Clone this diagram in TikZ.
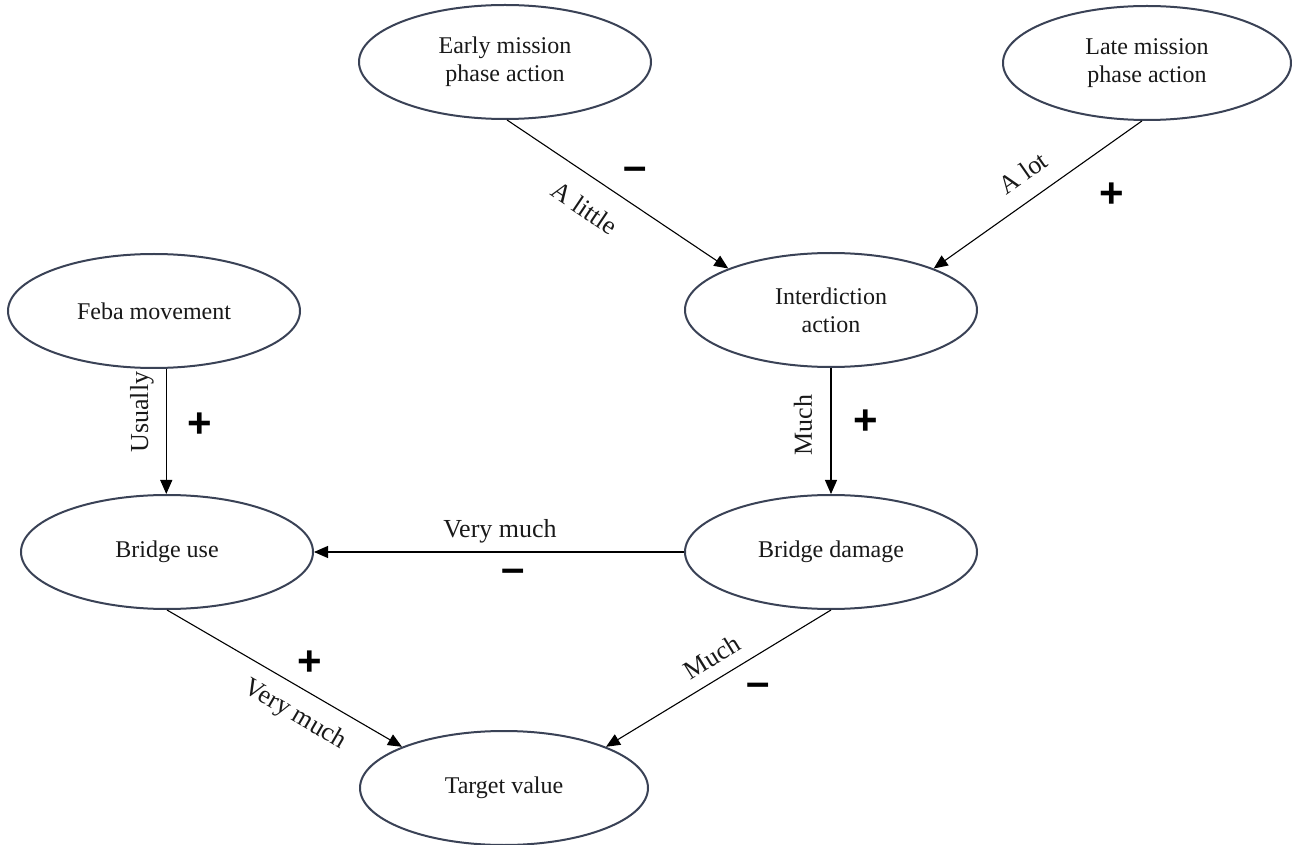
\documentclass[tikz,border=0pt]{standalone}
\usepackage{fontspec}
\setmainfont{Liberation Serif}
\newfontfamily\signfont{Liberation Sans}
\usetikzlibrary{shapes.geometric,arrows.meta}
\definecolor{elline}{RGB}{58,66,86}
\begin{document}
\begin{tikzpicture}[x=0.5pt,y=-0.5pt,
  concept/.style={ellipse, draw=elline, line width=1pt, fill=white,
    minimum width=146pt, minimum height=57pt, inner sep=0pt, align=center,
    font=\fontsize{12}{14}\selectfont, text=black!90},
  arr/.style={draw=black, line width=0.55pt, -{Triangle[length=7pt,width=6pt]}},
  lbl/.style={font=\fontsize{13}{15}\selectfont, inner sep=0pt, text=black!90},
  sign/.style={font=\signfont\bfseries\fontsize{21}{21}\selectfont, inner sep=0pt}]
\useasboundingbox (0,0) rectangle (1292,845);

\node[concept] (early) at (505,62) {Early mission\\phase action};
\node[concept, minimum width=144pt] (late) at (1147,63) {Late mission\\phase action};
\node[concept] (inter) at (831,310) {Interdiction\\action};
\node[concept] (feba) at (154,311) {Feba movement};
\node[concept] (bu) at (167,552) {Bridge use};
\node[concept] (bd) at (831,552) {Bridge damage};
\node[concept, minimum width=144pt] (tv) at (504,788) {Target value};

\draw[arr] (early.-88) -- (inter.158);
\draw[arr] (late.-95) -- (inter.22);
\draw[arr] (feba.-78) -- (feba.-78 |- bu.north);
\draw[arr] (inter.south) -- (bd.north);
\draw[arr] (bd.west) -- (bu.east);
\draw[arr] (bu.south) -- (tv.158);
\draw[arr] (bd.south) -- (tv.22);

\node[lbl, rotate=-34] (l1) at (585,208) {A little};
\node[lbl, rotate=35] (l2) at (1023,173) {A lot};
\node[lbl, rotate=90] (l3) at (142,412) {Usually};
\node[lbl, rotate=90] (l4) at (803,425) {Much};
\node[lbl] (l5) at (500,531) {Very much};
\node[lbl, rotate=-30.4] (l6) at (295,715) {Very much};
\node[lbl, rotate=31.7] (l7) at (712,657) {Much};

\node[sign] (s1) at (635,174) {–};
\node[sign] (s2) at (1112,195) {+};
\node[sign] (s3) at (200,425) {+};
\node[sign] (s4) at (866,422) {+};
\node[sign] (s5) at (513,576) {–};
\node[sign] (s6) at (310,663) {+};
\node[sign] (s7) at (758,690) {–};
\end{tikzpicture}
\end{document}
